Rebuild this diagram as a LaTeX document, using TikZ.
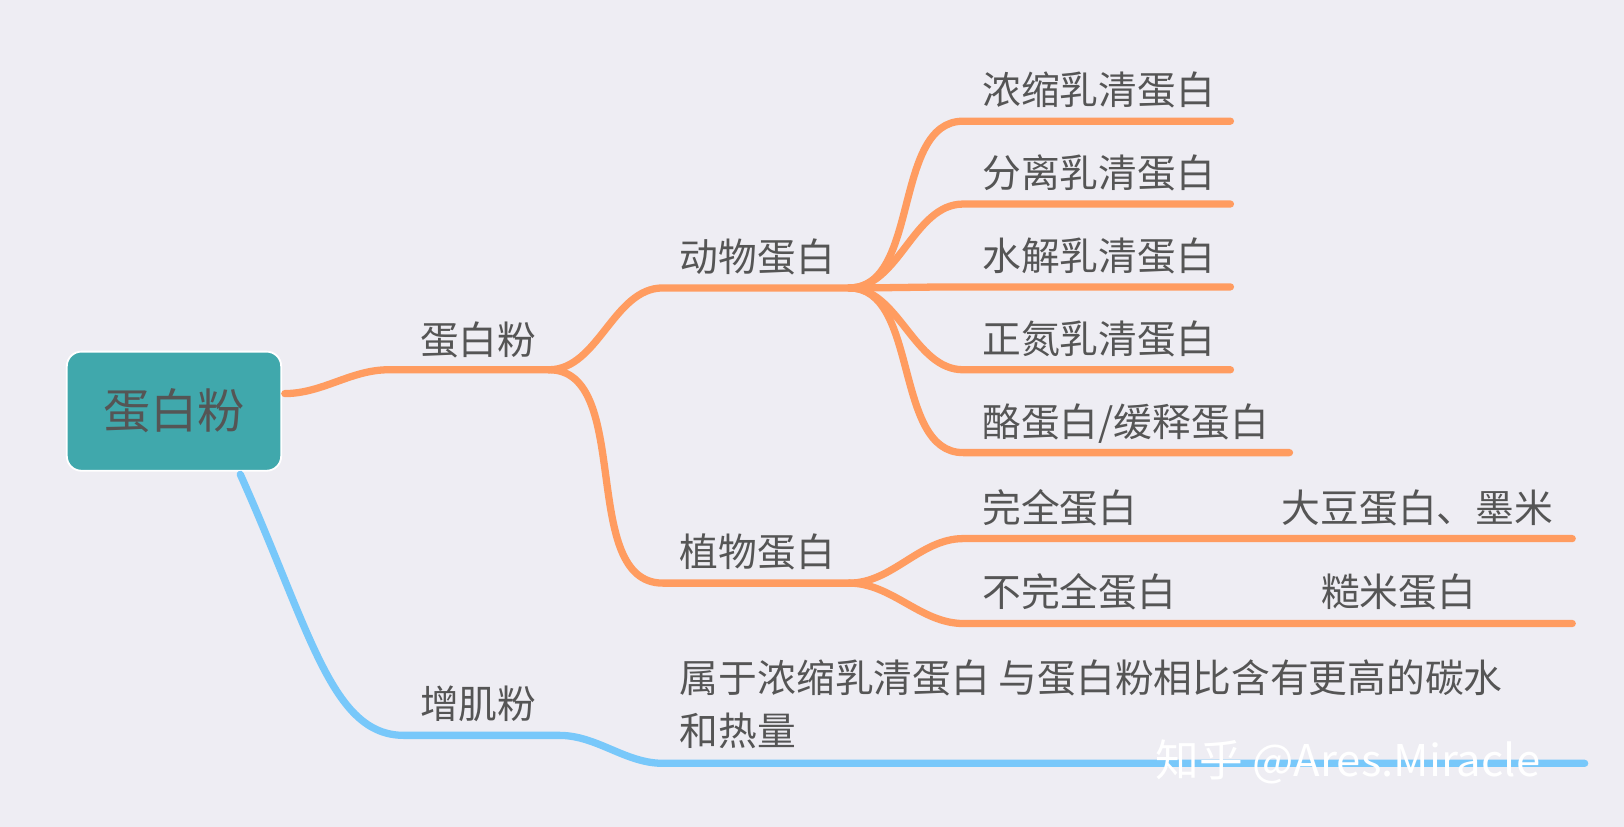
\documentclass[tikz,border=0pt]{standalone}
\usepackage{fontspec}
\setmainfont{Noto Sans CJK SC}
\definecolor{bg}{HTML}{EEEDF3}
\definecolor{orangeline}{HTML}{FF9C60}
\definecolor{blueline}{HTML}{78C8FA}
\definecolor{rootfill}{HTML}{40A8AC}
\definecolor{txt}{HTML}{555555}
\begin{document}
\begin{tikzpicture}[x=0.02cm,y=-0.02cm,line width=4pt,line cap=round]
    \tikzstyle{branch}=[draw=orangeline]
    \tikzstyle{muscle}=[draw=blueline]
    \tikzstyle{annot}=[text=txt,font=\fontsize{21.3}{24}\selectfont,anchor=base west,inner sep=0pt]
    \tikzstyle{curve}=[out=0,in=180,looseness=0.9]

    \fill[bg] (0,0) rectangle (1568,798);
    \useasboundingbox (0,0) rectangle (1568,798);

    % Root
    \node[fill=rootfill,draw=white,line width=1pt,rounded corners=8pt,minimum width=4.14cm,
          minimum height=2.3cm,text=txt,font=\fontsize{26}{28}\selectfont] (root) at (168,397) {蛋白粉};

    % Points on the lines
    \coordinate (r-o) at (275,380);
    \coordinate (p-s) at (375,357); \coordinate (p-e) at (530,357);
    \coordinate (a-s) at (640,278); \coordinate (a-e) at (820,278);
    \coordinate (v-s) at (640,563); \coordinate (v-e) at (820,563);
    \coordinate (r-b) at (232,458);
    \coordinate (m-s) at (390,710); \coordinate (m-e) at (540,710);
    \coordinate (d-s) at (640,737); \coordinate (d-e) at (1530,737);

    % Protein powder branch
    \draw[branch] (r-o) to[curve] (p-s) -- (p-e);
    \draw[branch] (p-e) to[curve] (a-s) -- (a-e);
    \draw[branch] (p-e) to[curve] (v-s) -- (v-e);
    \node[annot] (l-p) at (402,342) {蛋白粉};
    \node[annot] (l-a) at (653,262) {动物蛋白};
    \node[annot] (l-v) at (653,547) {植物蛋白};

    % Animal proteins
    \foreach \name/\y/\len/\lab in {1/117/1188/浓缩乳清蛋白,2/197/1188/分离乳清蛋白,
        3/277/1188/水解乳清蛋白,4/357/1188/正氮乳清蛋白,5/437/1245/{酪蛋白/缓释蛋白}}
    {
        \coordinate (A-\name) at (930,\y);
        \draw[branch] (a-e) to[curve] (A-\name) -- (\len,\y);
        \node[annot] (LA-\name) at (945,\y-16) {\lab};
    }

    % Plant proteins
    \foreach \name/\y/\lab/\ex/\exx in {1/520/完全蛋白/大豆蛋白、墨米/1234,2/602/不完全蛋白/糙米蛋白/1272}
    {
        \coordinate (V-\name) at (930,\y);
        \draw[branch] (v-e) to[curve] (V-\name) -- (1518,\y);
        \node[annot] (LV-\name) at (945,\y-16) {\lab};
        \node[annot] (EV-\name) at (\exx,\y-16) {\ex};
    }

    % Mass gainer branch
    \draw[muscle] (r-b) .. controls (300,610) and (320,710) .. (m-s) -- (m-e) to[curve] (d-s) -- (d-e);
    \node[annot] (l-m) at (402,694) {增肌粉};
    \node[annot] (l-d1) at (653,669) {属于浓缩乳清蛋白 与蛋白粉相比含有更高的碳水};
    \node[annot] (l-d2) at (653,720) {和热量};

    \node[annot,text=white,font=\fontsize{24}{26}\selectfont] (wm) at (1112,750) {知乎 @Ares.Miracle};
\end{tikzpicture}
\end{document}
